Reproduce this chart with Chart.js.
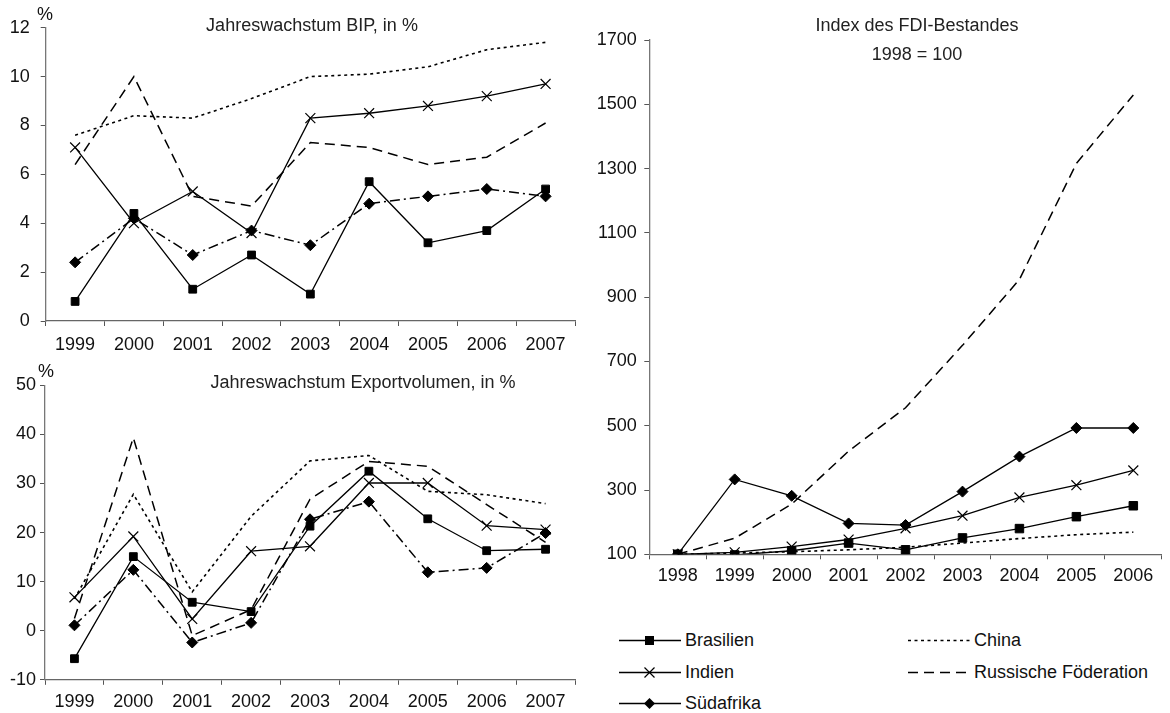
<!DOCTYPE html>
<html>
<head>
<meta charset="utf-8">
<script src="https://cdn.jsdelivr.net/npm/chart.js@4/dist/chart.umd.min.js"></script>
<style>
  body { margin: 0; background: #fff; width: 1170px; height: 713px; position: relative; overflow: hidden;
         font-family: "Liberation Sans", Arial, sans-serif; }
  canvas { position: absolute; }
  #bip { left: 0; top: 0; }
  #exp { left: 0; top: 360px; }
  #fdi { left: 590px; top: 0; }
  .leg { position: absolute; height: 24px; display: flex; align-items: center; font-size: 18px; color: #111; }
  .leg svg { margin-right: 4px; }
</style>
</head>
<body>
<canvas id="bip" width="590" height="355"></canvas>
<canvas id="exp" width="590" height="353"></canvas>
<canvas id="fdi" width="580" height="600"></canvas>
<div id="legend"></div>

<script>
const years = ['1999', '2000', '2001', '2002', '2003', '2004', '2005', '2006', '2007'];
const fdiYears = ['1998', '1999', '2000', '2001', '2002', '2003', '2004', '2005', '2006'];

// Jahreswachstum BIP, in %
const bipBrasilien = [0.8, 4.4, 1.3, 2.7, 1.1, 5.7, 3.2, 3.7, 5.4];
const bipChina     = [7.6, 8.4, 8.3, 9.1, 10.0, 10.1, 10.4, 11.1, 11.4];
const bipIndien    = [7.1, 4.0, 5.3, 3.6, 8.3, 8.5, 8.8, 9.2, 9.7];
const bipRussland  = [6.4, 10.0, 5.1, 4.7, 7.3, 7.1, 6.4, 6.7, 8.1];
const bipSuedafrika = [2.4, 4.2, 2.7, 3.7, 3.1, 4.8, 5.1, 5.4, 5.1];

// Jahreswachstum Exportvolumen, in %
const expBrasilien = [-5.7, 15.1, 5.8, 3.9, 21.3, 32.5, 22.8, 16.3, 16.6];
const expChina     = [6.5, 27.8, 7.9, 23.3, 34.6, 35.7, 28.4, 27.7, 25.9];
const expIndien    = [6.8, 19.2, 2.4, 16.2, 17.2, 30.1, 30.1, 21.4, 20.6];
const expRussland  = [2.5, 39.3, -1.0, 4.3, 26.8, 34.5, 33.5, 25.7, 18.0];
const expSuedafrika = [1.1, 12.4, -2.4, 1.6, 22.7, 26.3, 11.9, 12.8, 19.9];

// Index des FDI-Bestandes, 1998 = 100
const fdiBrasilien = [100, 98, 111, 135, 114, 151, 180, 217, 251];
const fdiChina     = [100, 104, 108, 114, 122, 135, 149, 161, 169];
const fdiIndien    = [100, 106, 124, 146, 181, 220, 277, 315, 361];
const fdiRussland  = [100, 150, 256, 421, 556, 750, 955, 1316, 1529];
const fdiSuedafrika = [100, 333, 282, 196, 191, 295, 404, 493, 493];

const FONT = '"Liberation Sans", Arial, sans-serif';
Chart.defaults.font.family = FONT;
Chart.defaults.font.size = 18;
Chart.defaults.color = '#111';

// line styles per country (Südafrika is dash-dot on the left, solid on the right)
function styleFor(name, big, right) {
    const base = { borderColor: '#000', backgroundColor: '#000', borderWidth: 1.3, tension: 0,
                   pointBorderColor: '#000', pointBackgroundColor: '#000', pointBorderWidth: 1, pointRadius: 0 };
    if (name === 'Brasilien') return { ...base, pointStyle: 'rect', pointRadius: big ? 6 : 5.5 };
    if (name === 'Indien') return { ...base, pointStyle: 'crossRot', pointRadius: 7, pointBorderWidth: 1.2 };
    if (name === 'China') return { ...base, borderWidth: 1.6, borderDash: [3, 3.5] };
    if (name === 'Russische Föderation') return { ...base, borderWidth: 1.5, borderDash: [10, 6] };
    if (name === 'Südafrika') return { ...base, pointStyle: 'rectRot', pointRadius: 5.5,
                                        borderDash: right ? [] : [10, 4, 2, 4], borderWidth: right ? 1.3 : 1.5 };
}

function makeSets(series, right) {
    return series.map(([name, data]) => ({ label: name, data, ...styleFor(name, right, right) }));
}

const textPlugin = {
    id: 'texts',
    afterDraw(chart, args, opts) {
        const ctx = chart.ctx;
        (opts.items || []).forEach(t => {
            ctx.save();
            ctx.font = '18px ' + FONT;
            ctx.fillStyle = t.color || '#222';
            ctx.textAlign = 'center';
            ctx.textBaseline = 'middle';
            ctx.fillText(t.text, t.x, t.y);
            ctx.restore();
        });
    }
};

function makeChart(id, labels, datasets, o) {
    return new Chart(document.getElementById(id), {
        type: 'line',
        data: { labels, datasets },
        plugins: [textPlugin],
        options: {
            responsive: false,
            animation: false,
            layout: { padding: { top: o.top, right: o.right, left: 0, bottom: 0 } },
            plugins: { legend: { display: false }, tooltip: { enabled: false }, texts: { items: o.texts } },
            scales: {
                x: {
                    offset: true,
                    afterFit: s => { s.height = o.xHeight; },
                    grid: { drawOnChartArea: false, drawTicks: true, tickLength: 5, offset: true, color: '#555' },
                    border: { color: '#666', width: 1.3 },
                    ticks: { padding: o.xPad, maxRotation: 0, autoSkip: false, color: '#111' }
                },
                y: {
                    min: o.min, max: o.max,
                    afterFit: s => { s.width = o.yWidth; },
                    grid: { drawOnChartArea: false, drawTicks: true, tickLength: 5, color: '#555' },
                    border: { color: '#777', width: 1.3 },
                    ticks: { stepSize: o.step, padding: o.yPad, color: '#111', callback: v => String(v) }
                }
            }
        }
    });
}

makeChart('bip', years, makeSets([
    ['China', bipChina], ['Russische Föderation', bipRussland], ['Südafrika', bipSuedafrika],
    ['Indien', bipIndien], ['Brasilien', bipBrasilien]
], false), {
    top: 27.7, right: 15, xHeight: 34, xPad: 8, yWidth: 45.7, yPad: 11, min: 0, max: 12, step: 2,
    texts: [{ text: 'Jahreswachstum BIP, in %', x: 312, y: 26 }, { text: '%', x: 45, y: 15, color: '#111' }]
});

makeChart('exp', years, makeSets([
    ['China', expChina], ['Russische Föderation', expRussland], ['Südafrika', expSuedafrika],
    ['Indien', expIndien], ['Brasilien', expBrasilien]
], false), {
    top: 25.3, right: 15, xHeight: 33.2, xPad: 6, yWidth: 45, yPad: 4, min: -10, max: 50, step: 10,
    texts: [{ text: 'Jahreswachstum Exportvolumen, in %', x: 363, y: 23.3 }, { text: '%', x: 46, y: 11.7, color: '#111' }]
});

makeChart('fdi', fdiYears, makeSets([
    ['China', fdiChina], ['Russische Föderation', fdiRussland], ['Südafrika', fdiSuedafrika],
    ['Indien', fdiIndien], ['Brasilien', fdiBrasilien]
], true), {
    top: 40, right: 2.3, xHeight: 45.7, xPad: 5.5, yWidth: 59.3, yPad: 7.5, min: 100, max: 1700, step: 200,
    texts: [{ text: 'Index des FDI-Bestandes', x: 327, y: 26 }, { text: '1998 = 100', x: 327, y: 55 }]
});

// legend below the FDI chart
const legendItems = [
    { name: 'Brasilien', x: 619, y: 640 },
    { name: 'China', x: 908, y: 640 },
    { name: 'Indien', x: 619, y: 672 },
    { name: 'Russische Föderation', x: 908, y: 672 },
    { name: 'Südafrika', x: 619, y: 703 }
];

function sampleSvg(name) {
    const st = styleFor(name, true, true);
    const dash = st.borderDash && st.borderDash.length ? `stroke-dasharray="${st.borderDash.join(' ')}"` : '';
    let marker = '';
    if (st.pointStyle === 'rect') marker = '<rect x="26" y="6" width="9" height="9" fill="#000"/>';
    if (st.pointStyle === 'crossRot') marker = '<path d="M25.5 5.5 L35.5 15.5 M35.5 5.5 L25.5 15.5" stroke="#000" stroke-width="1.2"/>';
    if (st.pointStyle === 'rectRot') marker = '<path d="M30.5 5 L36 10.5 L30.5 16 L25 10.5 Z" fill="#000"/>';
    return `<svg width="62" height="21"><line x1="0" y1="10.5" x2="62" y2="10.5" stroke="#000" stroke-width="${st.borderWidth}" ${dash}/>${marker}</svg>`;
}

const legendEl = document.getElementById('legend');
legendItems.forEach(it => {
    const d = document.createElement('div');
    d.className = 'leg';
    d.style.left = it.x + 'px';
    d.style.top = (it.y - 12) + 'px';
    d.innerHTML = sampleSvg(it.name) + '<span>' + it.name + '</span>';
    legendEl.appendChild(d);
});
</script>
</body>
</html>
